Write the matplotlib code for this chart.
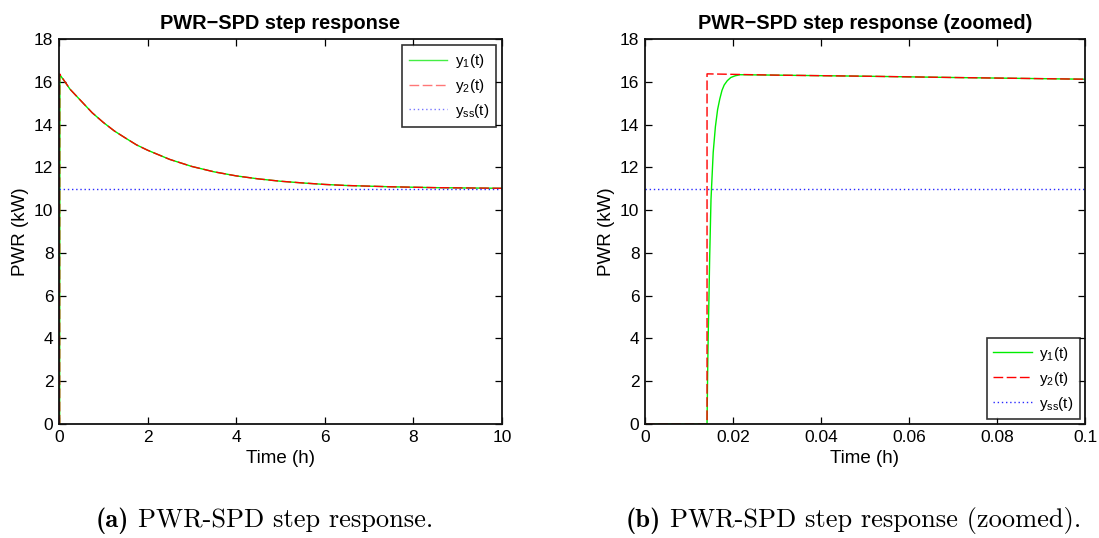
import matplotlib
matplotlib.use("Agg")
import matplotlib.pyplot as plt
from matplotlib.ticker import FixedLocator, FixedFormatter

plt.rcParams['font.family'] = ['Liberation Sans', 'DejaVu Sans']

# ---------------- data ----------------
# full horizon (hours)
t_full = [0, 0.0141, 0.02, 0.25, 0.5, 0.75, 1.0, 1.25, 1.5, 1.75, 2.0, 2.5, 3.0, 3.5,
          4.0, 4.5, 5.0, 5.5, 6.0, 6.5, 7.0, 7.5, 8.0, 8.5, 9.0, 9.5, 10.0]
y1_full = [0, 0, 16.33, 15.65, 15.10, 14.55, 14.10, 13.70, 13.37, 13.05, 12.80, 12.37,
           12.04, 11.79, 11.60, 11.46, 11.35, 11.27, 11.20, 11.15, 11.12, 11.09, 11.07,
           11.05, 11.04, 11.03, 11.02]
t2_full = [0, 0.0141, 0.0142, 0.25, 0.5, 0.75, 1.0, 1.25, 1.5, 1.75, 2.0, 2.5, 3.0, 3.5,
           4.0, 4.5, 5.0, 5.5, 6.0, 6.5, 7.0, 7.5, 8.0, 8.5, 9.0, 9.5, 10.0]
y2_full = [0, 0, 16.37, 15.65, 15.10, 14.55, 14.10, 13.70, 13.37, 13.05, 12.80, 12.37,
           12.04, 11.79, 11.60, 11.46, 11.35, 11.27, 11.20, 11.15, 11.12, 11.09, 11.07,
           11.05, 11.04, 11.03, 11.02]
t_ss = [0, 10]
y_ss = [10.98, 10.98]

# zoomed horizon (hours)
t1_zoom = [0, 0.0141, 0.0142, 0.0143, 0.0144, 0.0145, 0.0147, 0.0150, 0.0155, 0.0160,
           0.0165, 0.0170, 0.0175, 0.0180, 0.0187, 0.0195, 0.0205, 0.0216, 0.03, 0.05,
           0.07, 0.1]
y1_zoom = [0, 0, 1.8, 3.3, 4.5, 5.5, 7.8, 10.5, 12.7, 13.9, 14.7, 15.2, 15.6, 15.85,
           16.05, 16.2, 16.28, 16.33, 16.31, 16.26, 16.20, 16.12]
t2_zoom = [0, 0.0141, 0.0141, 0.03, 0.05, 0.07, 0.1]
y2_zoom = [0, 0, 16.37, 16.31, 16.26, 16.20, 16.12]
t_ss_zoom = [0, 0.1]
y_ss_zoom = [10.98, 10.98]

yticks = [0, 2, 4, 6, 8, 10, 12, 14, 16, 18]
xticks_full = [0, 2, 4, 6, 8, 10]
xticks_zoom = [0, 0.02, 0.04, 0.06, 0.08, 0.1]
xticklabels_zoom = ['0', '0.02', '0.04', '0.06', '0.08', '0.1']

labels = [r'$\mathregular{y_1(t)}$', r'$\mathregular{y_2(t)}$', r'$\mathregular{y_{ss}(t)}$']

# ---------------- figure ----------------
W, H = 1099, 538
fig = plt.figure(figsize=(W / 100, H / 100), dpi=100)
fig.patch.set_facecolor('white')


def px_axes(x0, y0, x1, y1):
    return fig.add_axes([x0 / W, (H - y1) / H, (x1 - x0) / W, (y1 - y0) / H])


ax1 = px_axes(59, 39, 502, 424)
ax2 = px_axes(645, 39, 1085, 424)

GREEN = '#00ee00'
RED = '#ff0000'
BLUE = '#2a2aff'
DASH = (7, 2.5)
DOT = (1, 2)


def style(ax):
    ax.tick_params(direction='in', top=True, right=True, length=5, width=0.9,
                   labelsize=12.5, pad=4, colors='black')
    for s in ax.spines.values():
        s.set_linewidth(1.3)
        s.set_color('#111111')
    ax.set_ylim(0, 18)
    ax.yaxis.set_major_locator(FixedLocator(yticks))
    ax.set_ylabel('PWR (kW)', fontsize=13.5, labelpad=4)
    ax.set_xlabel('Time (h)', fontsize=13.5, labelpad=4)


# left panel
ax1.plot(t_full, y1_full, color=GREEN, lw=1.0, label=labels[0])
ax1.plot(t2_full, y2_full, color=RED, lw=1.0, dashes=DASH, label=labels[1])
ax1.plot(t_ss, y_ss, color=BLUE, lw=1.0, dashes=DOT, label=labels[2])
ax1.set_xlim(0, 10)
ax1.xaxis.set_major_locator(FixedLocator(xticks_full))
style(ax1)
ax1.set_title('PWR\u2212SPD step response', fontsize=14.4, fontweight='bold', pad=7)
leg1 = ax1.legend(loc='upper right', fontsize=11, frameon=True, fancybox=False,
                  edgecolor='black', handlelength=2.5, borderaxespad=0.4,
                  labelspacing=0.45, handletextpad=0.5, borderpad=0.45)
leg1.get_frame().set_linewidth(1.2)
for ln, c in zip(leg1.get_lines(), ['#44ee44', '#ff7777', '#7777ff']):
    ln.set_color(c)

# right panel
ax2.plot(t1_zoom, y1_zoom, color=GREEN, lw=1.0, label=labels[0])
ax2.plot(t2_zoom, y2_zoom, color=RED, lw=1.0, dashes=DASH, label=labels[1])
ax2.plot(t_ss_zoom, y_ss_zoom, color=BLUE, lw=1.0, dashes=DOT, label=labels[2])
ax2.set_xlim(0, 0.1)
ax2.xaxis.set_major_locator(FixedLocator(xticks_zoom))
ax2.xaxis.set_major_formatter(FixedFormatter(xticklabels_zoom))
style(ax2)
ax2.set_title('PWR\u2212SPD step response (zoomed)', fontsize=14.4, fontweight='bold', pad=7)
leg2 = ax2.legend(loc='lower right', fontsize=11, frameon=True, fancybox=False,
                  edgecolor='black', handlelength=2.5, borderaxespad=0.3,
                  labelspacing=0.45, handletextpad=0.5, borderpad=0.45)
leg2.get_frame().set_linewidth(1.2)

# captions (LaTeX-like)
fig.canvas.draw()
renderer = fig.canvas.get_renderer()


def caption(x_left_px, y_px, tag, rest):
    yf = (H - y_px) / H
    t1 = fig.text(x_left_px / W, yf, tag, family='cmb10', fontsize=19, va='baseline', ha='left')
    bb = t1.get_window_extent(renderer)
    fig.text((bb.x1 + 9) / W, yf, rest, family='cmr10', fontsize=19, va='baseline', ha='left')


caption(96, 527, '(a)', 'PWR-SPD step response.')
caption(626, 527, '(b)', 'PWR-SPD step response (zoomed).')

fig.savefig('out.png', dpi=100)
